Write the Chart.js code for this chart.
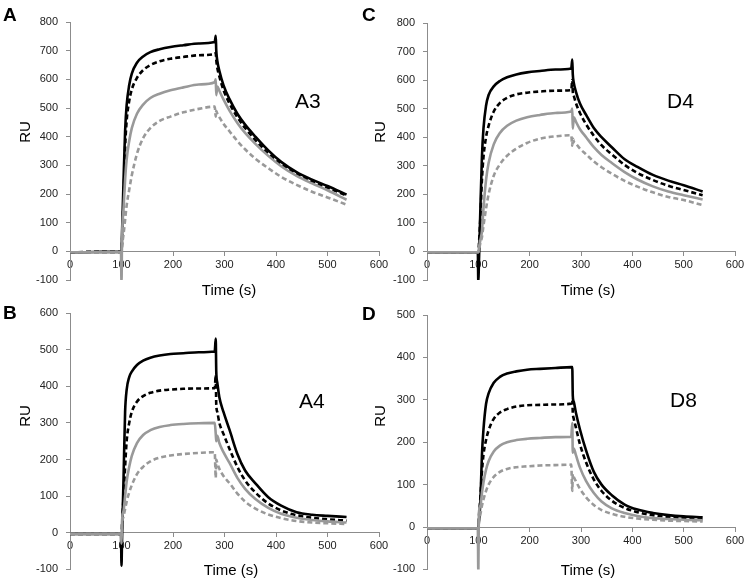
<!DOCTYPE html>
<html><head><meta charset="utf-8">
<script src="https://cdn.jsdelivr.net/npm/chart.js@4"></script>
<style>
html,body{margin:0;padding:0;background:#fff;width:748px;height:584px;overflow:hidden;position:relative}
canvas{position:absolute}
</style></head><body>
<canvas id="cA" width="395" height="300" style="left:0;top:0"></canvas>
<canvas id="cB" width="395" height="292" style="left:0;top:292px"></canvas>
<canvas id="cC" width="393" height="300" style="left:355px;top:0"></canvas>
<canvas id="cD" width="393" height="292" style="left:355px;top:292px"></canvas>
<script>
// Time points (s)
const time = [0, 30, 60, 99, 100, 101, 104, 107, 110, 115, 120, 130, 142, 156, 174, 195, 220, 250, 281, 283, 284, 286, 290, 298, 310, 325, 340, 360, 385, 410, 440, 470, 500, 537];
const xTicks = [0, 100, 200, 300, 400, 500, 600];
const panelLetters = ['A', 'B', 'C', 'D'];
const panelLabels = ['A3', 'A4', 'D4', 'D8'];

// Panel A (A3)
const aBlack     = [-3,-3,-2,-2,-10, 60,250,420,510,580, 620,658,680,695,705, 713,719,725,730,752, 700,665,630,580,530, 480,442,400,352,312, 276,250,228,198];
const aBlackDash = [-5,-2,-2,-2,-2, 30,180,360,455,525, 565,605,632,650,663, 672,678,684,688,692, 668,640,610,563,515, 468,430,388,342,304, 270,244,222,195];
const aGray      = [-3,-3,-3,-2,-110, 40,150,250,320,385, 430,480,512,535,550, 562,572,582,590,600, 545,575,560,530,490, 448,413,375,333,297, 263,237,213,180];
const aGrayDash  = [-3,-3,-3,-3,-3, 20,60,110,160,215, 265,340,395,430,455, 470,485,497,505,470, 490,480,468,445,418, 385,356,323,290,260, 232,208,188,163];

// Panel B (A4)
const bBlack     = [-3,-3,-3,-3,-90, -20,150,330,390,425, 440,458,470,478,484, 488,490,493,495,530, 440,410,370,330,280, 215,170,135,97,74, 56,49,46,43];
const bBlackDash = [-3,-3,-3,-3,-3, 20,100,180,250,300, 330,358,373,382,388, 391,393,394,395,430, 350,330,300,270,228, 180,143,110,80,61, 48,41,37,33];
const bGray      = [-3,-3,-3,-3,-30, 30,60,100,140,180, 210,245,267,280,289, 294,297,299,300,270, 250,265,245,220,190, 150,120,92,68,52, 41,35,31,28];
const bGrayDash  = [-3,-3,-3,-3,-3, 25,45,65,85,110, 130,160,180,195,205, 211,215,218,220,150, 200,190,175,155,135, 107,85,66,50,40, 32,28,26,24];

// Panel C (D4)
const cBlack     = [-3,-3,-3,-3,-110, -50,150,330,430,510, 548,578,597,610,620, 627,632,637,641,672, 620,590,560,518,478, 432,400,365,323,296, 268,248,232,210];
const cBlackDash = [-3,-3,-3,-3,-3, 20,120,250,330,400, 440,490,520,538,550, 556,560,563,565,600, 560,545,520,485,445, 405,372,340,303,275, 250,230,215,197];
const cGray      = [-3,-3,-3,-3,-3, 10,40,70,150,250, 310,375,415,440,458, 470,478,485,490,500, 430,470,455,428,400, 365,338,310,278,252, 228,210,197,182];
const cGrayDash  = [-3,-3,-3,-3,-3, 5,30,50,90,150, 200,265,305,335,360, 380,395,403,407,370, 395,385,378,360,340, 315,295,272,247,227, 207,191,180,162];

// Panel D (D8)
const dBlack     = [-3,-3,-3,-3,-3, 10,60,170,230,290, 315,340,354,362,367, 371,373,375,377,377, 310,295,270,230,180, 130,100,75,53,41, 33,28,25,23];
const dBlackDash = [-3,-3,-3,-3,-3, 20,70,130,170,205, 228,255,270,278,284, 287,288,289,291,300, 270,255,235,195,152, 112,85,62,45,35, 28,24,21,19];
const dGray      = [-3,-3,-3,-3,-110, 30,50,80,105,135, 155,178,192,200,205, 208,210,212,213,245, 175,185,170,140,108, 80,60,44,33,26, 21,19,17,16];
const dGrayDash  = [-3,-3,-3,-3,-3, 15,30,50,65,85, 100,118,130,137,141, 143,145,146,147,85, 125,118,108,90,70, 52,40,31,24,20, 17,15,14,13];

const FONT = '"Liberation Sans", Arial, sans-serif';
const AXIS = '#8c8c8c';
const BLACK = '#000000';
const GRAY = '#999999';

function pts(arr) { return time.map((t, i) => ({ x: t, y: arr[i] })); }

function ds(arr, color, dashed, order) {
  return {
    data: pts(arr),
    borderColor: color,
    borderWidth: 2.6,
    borderDash: dashed ? [5, 3] : [],
    pointRadius: 0,
    fill: false,
    order: order,
    cubicInterpolationMode: 'monotone'
  };
}

function textPlugin(t) {
  return {
    id: 'panelText',
    afterDraw(chart) {
      const ctx = chart.ctx;
      ctx.save();
      ctx.fillStyle = '#000';
      ctx.textAlign = 'left';
      ctx.textBaseline = 'alphabetic';
      ctx.font = 'bold 19px ' + FONT;
      ctx.fillText(t.letter, t.lx, t.ly);
      ctx.font = '21px ' + FONT;
      ctx.fillText(t.label, t.nx, t.ny);
      ctx.font = '15px ' + FONT;
      ctx.textAlign = 'center';
      ctx.textBaseline = 'middle';
      ctx.fillText('Time (s)', t.tx, t.ty);
      ctx.translate(t.rx, t.ry);
      ctx.rotate(-Math.PI / 2);
      ctx.fillText('RU', 0, 0);
      ctx.restore();
    }
  };
}

function makeChart(id, series, yMax, yAxisWidth, pad, txt) {
  new Chart(document.getElementById(id), {
    type: 'line',
    data: {
      datasets: [
        ds(series[0], BLACK, false, 3),
        ds(series[1], BLACK, true, 2),
        ds(series[2], GRAY, false, 0),
        ds(series[3], GRAY, true, 1)
      ]
    },
    options: {
      responsive: false,
      animation: false,
      layout: { padding: pad },
      plugins: { legend: { display: false }, tooltip: { enabled: false }, title: { display: false } },
      scales: {
        x: {
          type: 'linear',
          position: { y: 0 },
          min: 0, max: 600,
          afterBuildTicks: (s) => { s.ticks = xTicks.map(v => ({ value: v })); },
          grid: { drawOnChartArea: false, drawTicks: true, tickLength: 4, color: AXIS },
          border: { color: AXIS, width: 1 },
          ticks: { font: { family: FONT, size: 11 }, color: '#222', padding: 3, maxRotation: 0 }
        },
        y: {
          min: -100, max: yMax,
          afterFit: (s) => { s.width = yAxisWidth; },
          grid: { drawOnChartArea: false, drawTicks: true, tickLength: 4, color: AXIS },
          border: { color: AXIS, width: 1 },
          ticks: { stepSize: 100, font: { family: FONT, size: 11 }, color: '#222', padding: 8 }
        }
      }
    },
    plugins: [textPlugin(txt)]
  });
}

makeChart('cA', [aBlack, aBlackDash, aGray, aGrayDash], 800, 70,
  { left: 0, top: 22, right: 16, bottom: 20 },
  { letter: panelLetters[0], lx: 3, ly: 21, label: panelLabels[0], nx: 295, ny: 108, tx: 229, ty: 291, rx: 26, ry: 132 });
makeChart('cB', [bBlack, bBlackDash, bGray, bGrayDash], 600, 70,
  { left: 0, top: 21, right: 16, bottom: 13 },
  { letter: panelLetters[1], lx: 3, ly: 27, label: panelLabels[1], nx: 299, ny: 116, tx: 231, ty: 279, rx: 26, ry: 124 });
makeChart('cC', [cBlack, cBlackDash, cGray, cGrayDash], 800, 72,
  { left: 0, top: 23, right: 13, bottom: 20 },
  { letter: panelLetters[2], lx: 7, ly: 21, label: panelLabels[2], nx: 312, ny: 108, tx: 233, ty: 291, rx: 26, ry: 132 });
makeChart('cD', [dBlack, dBlackDash, dGray, dGrayDash], 500, 72,
  { left: 0, top: 23, right: 13, bottom: 13 },
  { letter: panelLetters[3], lx: 7, ly: 28, label: panelLabels[3], nx: 315, ny: 115, tx: 233, ty: 279, rx: 26, ry: 124 });
</script>
</body></html>
